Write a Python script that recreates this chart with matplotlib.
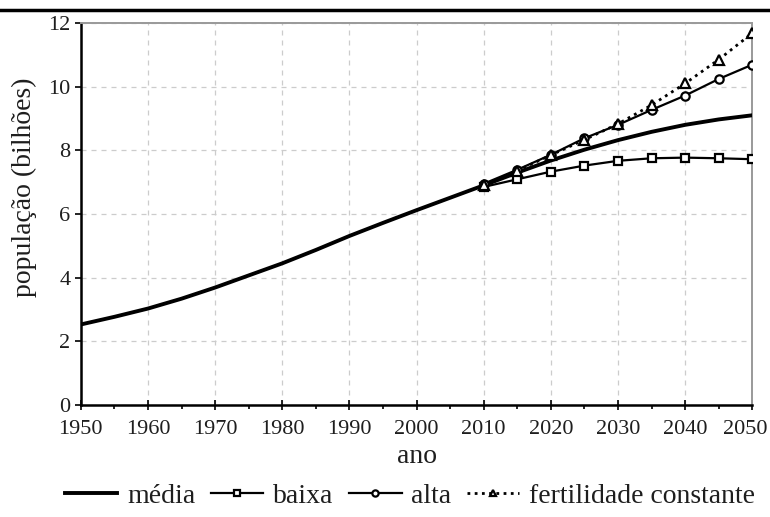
import numpy as np
import matplotlib.pyplot as plt
import matplotlib.transforms as mtrans
from matplotlib.lines import Line2D
from matplotlib.ticker import MultipleLocator

plt.rcParams['font.family'] = ['Liberation Serif', 'DejaVu Serif']

# dados (bilhões)
anos_hist = [1950, 1955, 1960, 1965, 1970, 1975, 1980, 1985, 1990, 1995, 2000, 2005, 2010,
             2015, 2020, 2025, 2030, 2035, 2040, 2045, 2050]
media = [2.53, 2.77, 3.03, 3.34, 3.69, 4.07, 4.45, 4.87, 5.31, 5.72, 6.12, 6.51, 6.90,
         7.30, 7.68, 8.02, 8.32, 8.58, 8.80, 8.97, 9.10]

anos_proj = [2010, 2015, 2020, 2025, 2030, 2035, 2040, 2045, 2050]
baixa = [6.85, 7.09, 7.33, 7.52, 7.67, 7.75, 7.77, 7.75, 7.72]
alta = [6.95, 7.39, 7.86, 8.38, 8.80, 9.27, 9.72, 10.24, 10.69]
fert_const = [6.90, 7.36, 7.85, 8.33, 8.83, 9.42, 10.10, 10.85, 11.68]

txt = '#1e1e1e'

fig = plt.figure(figsize=(7.7, 5.17), dpi=100)
ax = fig.add_axes([0.105, 0.2166, 0.872, 0.739])

ax.plot(anos_hist, media, color='black', lw=2.8, label='média', zorder=3)
ax.plot(anos_proj, baixa, color='black', lw=1.6, marker='s', ms=6, mfc='white', mew=1.6,
        label='baixa', zorder=4)
ax.plot(anos_proj, alta, color='black', lw=1.6, marker='o', ms=6, mfc='white', mew=1.6,
        label='alta', zorder=4)
ax.plot(anos_proj, fert_const, color='black', lw=2.0, ls=(0, (1, 1.6)), marker='^', ms=6.5,
        mfc='white', mew=1.6, label='fertilidade constante', zorder=5)

ax.set_xlim(1950, 2050)
ax.set_ylim(0, 12)
ax.set_xticks(range(1950, 2051, 10))
ax.xaxis.set_minor_locator(MultipleLocator(5))
ax.set_yticks(range(0, 13, 2))
ax.tick_params(axis='both', which='major', labelsize=16, labelcolor=txt,
               direction='out', length=4, width=1.2)
ax.tick_params(axis='x', which='major', direction='inout', length=7, pad=7)
ax.tick_params(axis='x', which='minor', direction='out', length=3, width=1.2)
ax.grid(True, ls=(0, (4, 4)), color='#cccccc', lw=0.9)

# último rótulo (2050) um pouco para a esquerda, como no original
last = ax.get_xticklabels()[-1]
last.set_transform(last.get_transform() + mtrans.ScaledTranslation(-5 / 72, 0, fig.dpi_scale_trans))

ax.spines['left'].set_linewidth(1.8)
ax.spines['bottom'].set_linewidth(1.8)
for s in ['top', 'right']:
    ax.spines[s].set_color('#999999')
    ax.spines[s].set_linewidth(1.4)

ax.set_xlabel('ano', fontsize=20, labelpad=4, color=txt)
ax.set_ylabel('população (bilhões)', fontsize=20, color=txt)
ax.yaxis.set_label_coords(-0.066, 0.57)

leg = ax.legend(loc='upper center', bbox_to_anchor=(0.49, -0.205), ncol=4, frameon=False,
                fontsize=20, handlelength=1.9, handletextpad=0.35, columnspacing=0.55,
                markerscale=0.75, borderpad=0, borderaxespad=0)
for t in leg.get_texts():
    t.set_color(txt)

fig.add_artist(Line2D([0, 1], [0.981, 0.981], color='black', lw=2.5,
                      transform=fig.transFigure))

fig.savefig('out.png', dpi=100)
